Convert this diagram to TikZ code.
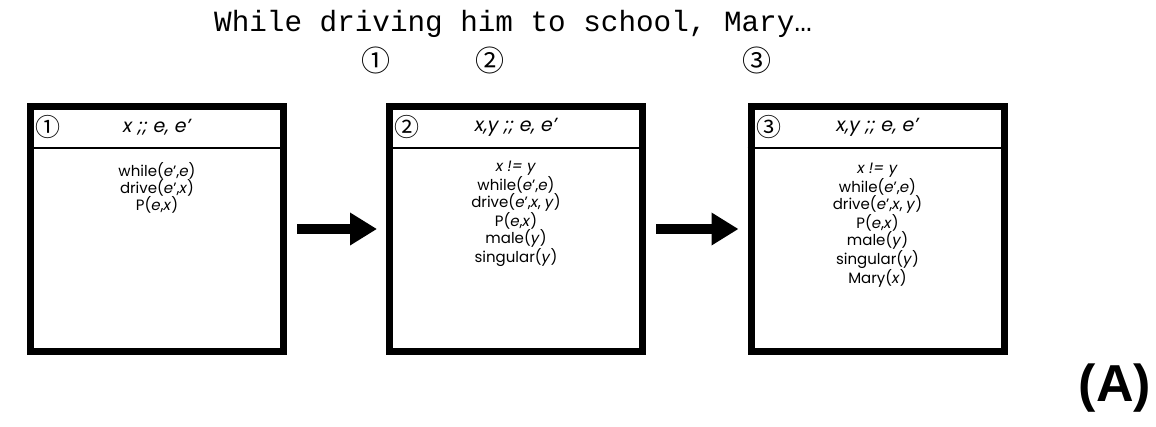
\documentclass[tikz,border=0pt]{standalone}
\usepackage{fontspec}
\setmainfont{Poppins}
\newfontfamily\monofont{Liberation Mono}
\newfontfamily\circfont{Noto Sans CJK SC}
\newfontfamily\tagfont{Liberation Sans}
\usetikzlibrary{arrows.meta,positioning,calc}
\newcommand\argv[1]{\textit{#1}}

\begin{document}
\begin{tikzpicture}[
  x=1pt, y=-1pt,
  frame/.style={draw, line width=7pt, minimum width=253pt, minimum height=245pt, inner sep=0pt},
  arrow/.style={line width=10pt, -{Triangle[length=27pt,width=31pt]}, shorten <=10pt, shorten >=9pt},
  circnum/.style={font=\circfont\fontsize{29}{29}\selectfont, inner sep=0pt},
  boxnum/.style={font=\circfont\fontsize{25}{25}\selectfont, inner sep=0pt},
  header/.style={font=\itshape\fontsize{19}{22}\selectfont, inner sep=0pt},
  body/.style={font=\fontsize{15}{16.9}\selectfont, align=center, inner sep=0pt, anchor=north}
]
\useasboundingbox (0,0) rectangle (1156,426);

% Sentence and its markers
\node[font=\monofont\fontsize{29.3}{30}\selectfont, anchor=base west, inner sep=0pt] (sent) at (214,31) {While driving him to school, Mary…};
\node[circnum] (m1) at (376,60) {①};
\node[circnum] (m2) at (490,60) {②};
\node[circnum] (m3) at (757,60) {③};

% Boxes
\node[frame] (b1) at (157,229) {};
\node[frame] (b2) at (516,229) {};
\node[frame] (b3) at (877.5,229) {};

% Header rules
\foreach \b in {b1,b2,b3}
  \draw[line width=2pt] ([yshift=-45pt]\b.north west) -- ([yshift=-45pt]\b.north east);

% Headers
\node[boxnum] (n1) at ([shift={(21,24)}]b1.north west) {①};
\node[boxnum] (n2) at ([shift={(21,24)}]b2.north west) {②};
\node[boxnum] (n3) at ([shift={(21,24)}]b3.north west) {③};
\node[header] (h1) at ([shift={(0,24)}]b1.north) {x ;; e, e’};
\node[header] (h2) at ([shift={(0,24)}]b2.north) {x,y ;; e, e’};
\node[header] (h3) at ([shift={(0,24)}]b3.north) {x,y ;; e, e’};

% Contents
\node[body] (t1) at ([shift={(0,59)}]b1.north) {while(\argv{e}’,\argv{e})\\drive(\argv{e}’,\argv{x})\\P(\argv{e},\argv{x})};
\node[body] (t2) at ([shift={(0,58)}]b2.north) {\argv{x != y}\\while(\argv{e}’,\argv{e})\\drive(\argv{e}’,\argv{x}, \argv{y})\\P(\argv{e},\argv{x})\\male(\argv{y})\\singular(\argv{y})};
\node[body] (t3) at ([shift={(0,60)}]b3.north) {\argv{x != y}\\while(\argv{e}’,\argv{e})\\drive(\argv{e}’,\argv{x}, \argv{y})\\P(\argv{e},\argv{x})\\male(\argv{y})\\singular(\argv{y})\\Mary(\argv{x})};

% Arrows
\draw[arrow] (b1) -- (b2);
\draw[arrow] (b2) -- (b3);

% Panel tag
\node[font=\tagfont\bfseries\fontsize{52}{52}\selectfont, inner sep=0pt] (tag) at (1115,388) {(A)};

\end{tikzpicture}
\end{document}
